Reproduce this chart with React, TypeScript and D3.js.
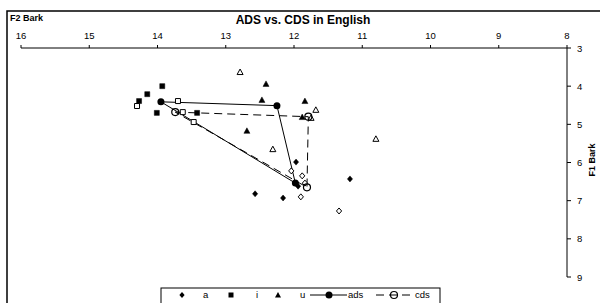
import React from 'react';
import * as d3 from 'd3';

// F2 (Bark), F1 (Bark) per token
const aAds: [number, number][] = [[11.97, 5.99], [12.57, 6.82], [12.16, 6.93], [11.94, 6.62], [11.18, 6.43]];
const aCds: [number, number][] = [[12.04, 6.22], [11.88, 6.35], [11.90, 6.90], [11.84, 6.54], [11.34, 7.27]];
const iAds: [number, number][] = [[13.93, 4.00], [14.15, 4.21], [14.27, 4.39], [14.01, 4.70], [13.42, 4.70]];
const iCds: [number, number][] = [[14.30, 4.52], [13.70, 4.39], [13.63, 4.68], [13.47, 4.94]];
const uAds: [number, number][] = [[12.41, 3.94], [12.47, 4.36], [11.84, 4.39], [12.69, 5.17], [11.88, 4.81]];
const uCds: [number, number][] = [[12.79, 3.63], [11.68, 4.62], [12.31, 5.65], [10.80, 5.38], [11.75, 4.83]];

// vowel means: i, u, a
const adsMeans: [number, number][] = [[13.95, 4.41], [12.25, 4.51], [11.98, 6.54]];
const cdsMeans: [number, number][] = [[13.74, 4.68], [11.79, 4.80], [11.81, 6.65]];

const xTicks = [16, 15, 14, 13, 12, 11, 10, 9, 8];
const yTicks = [3, 4, 5, 6, 7, 8, 9];

const font = 'Liberation Sans, Arial, sans-serif';

const diamond = (cx: number, cy: number) => `M${cx},${cy - 3}L${cx + 2.6},${cy}L${cx},${cy + 3}L${cx - 2.6},${cy}Z`;
const square = (cx: number, cy: number) => `M${cx - 2.5},${cy - 2.5}h5v5h-5Z`;
const triangle = (cx: number, cy: number) => `M${cx},${cy - 3}L${cx + 3},${cy + 2.5}L${cx - 3},${cy + 2.5}Z`;

const App: React.FC = () => {
  const width = 600;
  const height = 303;

  const x = d3.scaleLinear().domain([16, 8]).range([21, 567]);
  const y = d3.scaleLinear().domain([3, 9]).range([48, 277]);

  const line = d3.line<[number, number]>()
    .x(d => x(d[0]))
    .y(d => y(d[1]))
    .curve(d3.curveLinearClosed);

  const marks = (data: [number, number][], shape: (cx: number, cy: number) => string, filled: boolean, key: string) =>
    data.map((d, i) => (
      <path key={key + i} d={shape(x(d[0]), y(d[1]))}
        fill={filled ? '#000' : '#fff'} stroke="#000" strokeWidth={filled ? 0.5 : 1} />
    ));

  return (
    <svg width={width} height={height} style={{ position: 'absolute', left: 0, top: 0, background: '#fff' }}>
      {/* chart frame */}
      <rect x={7} y={11} width={650} height={330} fill="#fff" stroke="#000" strokeWidth={1.5} />

      <text x={10} y={21} fontFamily={font} fontSize={9} fontWeight="bold">F2 Bark</text>
      <text x={303} y={24} fontFamily={font} fontSize={12} fontWeight="bold" textAnchor="middle">ADS vs. CDS in English</text>

      {/* x axis on top */}
      <line x1={x(16)} x2={x(8)} y1={y(3)} y2={y(3)} stroke="#000" strokeWidth={1} />
      {xTicks.map(t => (
        <g key={'x' + t}>
          <line x1={x(t)} x2={x(t)} y1={y(3)} y2={y(3) - 3} stroke="#000" />
          <text x={x(t)} y={39} fontFamily={font} fontSize={9.5} textAnchor="middle">{t}</text>
        </g>
      ))}

      {/* y axis on right */}
      <line x1={x(8)} x2={x(8)} y1={y(3)} y2={y(9)} stroke="#000" strokeWidth={1} />
      {yTicks.map(t => (
        <g key={'y' + t}>
          <line x1={x(8)} x2={x(8) + 4} y1={y(t)} y2={y(t)} stroke="#000" />
          <text x={577} y={y(t) + 3.5} fontFamily={font} fontSize={9.5}>{t}</text>
        </g>
      ))}
      <text transform="translate(595,160) rotate(-90)" fontFamily={font} fontSize={9} fontWeight="bold" textAnchor="middle">F1 Bark</text>

      {/* mean triangles */}
      <path d={line(adsMeans) || ''} fill="none" stroke="#000" strokeWidth={1} />
      <path d={line(cdsMeans) || ''} fill="none" stroke="#000" strokeWidth={1} strokeDasharray="8,5" />

      {marks(aCds, diamond, false, 'ac')}
      {marks(iCds, square, false, 'ic')}
      {marks(uCds, triangle, false, 'uc')}
      {marks(aAds, diamond, true, 'aa')}
      {marks(iAds, square, true, 'ia')}
      {marks(uAds, triangle, true, 'ua')}

      {adsMeans.map((d, i) => <circle key={'am' + i} cx={x(d[0])} cy={y(d[1])} r={3.5} fill="#000" />)}
      {cdsMeans.map((d, i) => <circle key={'cm' + i} cx={x(d[0])} cy={y(d[1])} r={3.5} fill="none" stroke="#000" strokeWidth={1.2} />)}

      {/* legend */}
      <rect x={161} y={288} width={279} height={30} fill="#fff" stroke="#000" strokeWidth={1} />
      <path d={diamond(182, 295)} fill="#000" />
      <text x={203} y={298} fontFamily={font} fontSize={9.5}>a</text>
      <path d={square(231, 295)} fill="#000" />
      <text x={256} y={298} fontFamily={font} fontSize={9.5}>i</text>
      <path d={triangle(278, 295)} fill="#000" />
      <text x={300} y={298} fontFamily={font} fontSize={9.5}>u</text>
      <line x1={310} x2={347} y1={295} y2={295} stroke="#000" />
      <circle cx={329} cy={295} r={3.5} fill="#000" />
      <text x={348} y={298} fontFamily={font} fontSize={9.5}>ads</text>
      <line x1={376} x2={413} y1={295} y2={295} stroke="#000" strokeDasharray="8,5" />
      <circle cx={394} cy={295} r={3.5} fill="none" stroke="#000" strokeWidth={1.2} />
      <text x={415} y={298} fontFamily={font} fontSize={9.5}>cds</text>
    </svg>
  );
};

export default App;
